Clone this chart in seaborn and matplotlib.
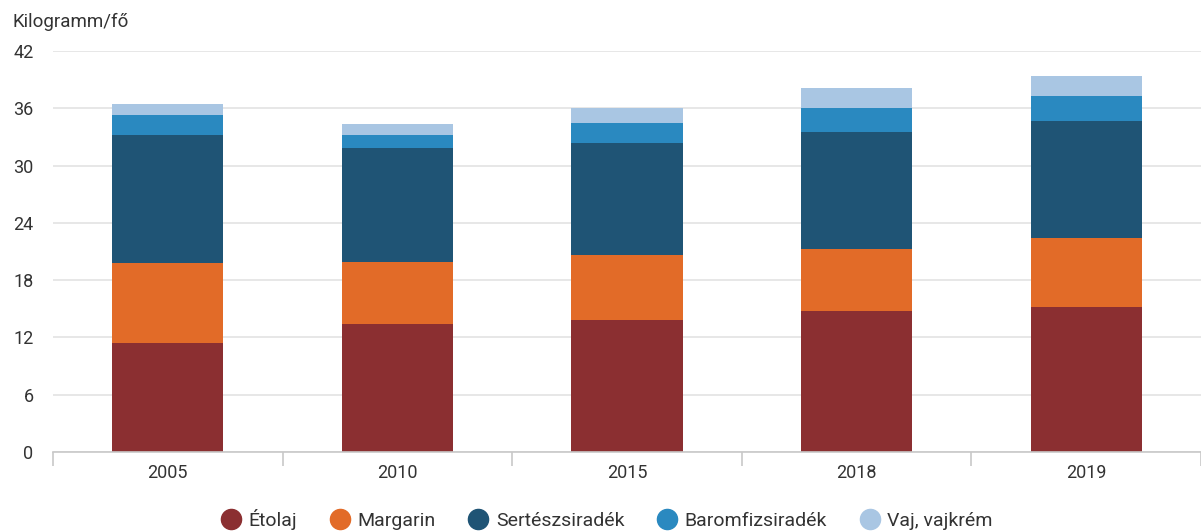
import matplotlib
matplotlib.use("Agg")
import matplotlib.pyplot as plt
from matplotlib.lines import Line2D
from matplotlib.ticker import FixedLocator
import numpy as np
import pandas as pd
import seaborn as sns

years = ["2005", "2010", "2015", "2018", "2019"]
series = ["Étolaj", "Margarin", "Sertészsiradék", "Baromfizsiradék", "Vaj, vajkrém"]
etolaj = [11.4, 13.4, 13.8, 14.75, 15.2]
margarin = [8.4, 6.5, 6.85, 6.55, 7.2]
sertes = [13.4, 11.9, 11.75, 12.2, 12.3]
baromfi = [2.1, 1.4, 2.1, 2.5, 2.6]
vaj = [1.1, 1.15, 1.5, 2.15, 2.1]
colors = ["#8B2F31", "#E26B28", "#1F5475", "#2A89C0", "#A9C6E3"]
yticks = [0, 6, 12, 18, 24, 30, 36, 42]

sns.set_theme(style="whitegrid")
plt.rcParams["font.family"] = ["Roboto", "DejaVu Sans"]

df = pd.DataFrame(
    {"year": years, series[0]: etolaj, series[1]: margarin, series[2]: sertes,
     series[3]: baromfi, series[4]: vaj}
)
cum = df[series].cumsum(axis=1)

fig = plt.figure(figsize=(12.01, 5.32), dpi=100)
ax = fig.add_axes([53 / 1201, 80 / 532, 1148 / 1201, 401 / 532])

# stacked bars: draw the running totals from the top layer down
for name, col in reversed(list(zip(series, colors))):
    sns.barplot(x=df["year"], y=cum[name], color=col, width=0.485,
                linewidth=0, saturation=1, ax=ax)

ax.set_ylim(0, 42)
ax.set_xlim(-0.5, 4.5)
ax.set_yticks(yticks)
ax.set_xlabel("")
ax.set_ylabel("")
ax.grid(axis="y", color="#e3e3e3", linewidth=1.2)
ax.grid(axis="x", visible=False)
ax.set_axisbelow(True)
for s in ["left", "right", "top"]:
    ax.spines[s].set_visible(False)
ax.spines["bottom"].set_color("#c8c8c8")
ax.spines["bottom"].set_linewidth(1.2)

ax.xaxis.set_minor_locator(FixedLocator(np.arange(-0.5, 5, 1)))
ax.tick_params(axis="x", which="minor", length=10, width=1.2, color="#c8c8c8",
               bottom=True)
ax.tick_params(axis="x", which="major", length=0, pad=9, labelsize=13,
               labelcolor="#333333")
ax.tick_params(axis="y", length=0, pad=14, labelsize=13, labelcolor="#333333")

fig.text(12 / 1201, 1 - 22 / 532, "Kilogramm/fő", fontsize=13.5, color="#333333",
         va="center", ha="left")

handles = [Line2D([0], [0], marker="o", linestyle="", markersize=14.5,
                  markerfacecolor=c, markeredgecolor=c) for c in colors]
fig.legend(handles, series, loc="center", bbox_to_anchor=(607 / 1201, 13 / 532),
           ncol=5, frameon=False, fontsize=14, handlelength=1.0,
           handletextpad=0.4, columnspacing=1.7, labelcolor="#333333")

fig.savefig("out.png", dpi=100)
